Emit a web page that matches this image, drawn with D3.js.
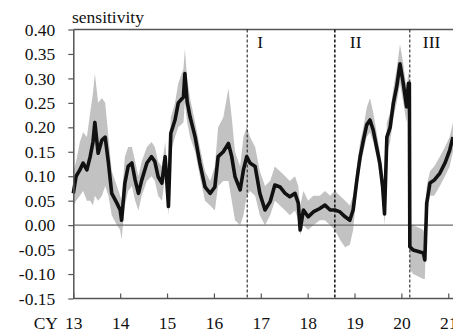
<!DOCTYPE html>
<html>
<head>
<meta charset="utf-8">
<script src="https://cdn.jsdelivr.net/npm/d3@7"></script>
<style>
  body { margin: 0; background: #fff; }
</style>
</head>
<body>
<div id="chart"></div>
<script>
// data
const years = [13.00,13.06,13.14,13.21,13.29,13.36,13.42,13.46,13.53,13.61,13.68,13.75,13.82,13.93,14.00,14.03,
  14.10,14.17,14.25,14.32,14.39,14.46,14.57,14.67,14.74,14.81,14.89,14.96,15.03,15.08,15.17,15.24,15.35,15.38,
  15.43,15.49,15.60,15.70,15.81,15.92,16.02,16.09,16.20,16.31,16.38,16.45,16.56,16.63,16.70,16.77,16.88,16.98,
  17.09,17.20,17.30,17.41,17.52,17.62,17.73,17.80,17.84,17.91,18.01,18.12,18.26,18.37,18.48,18.58,18.69,18.80,
  18.90,18.97,19.05,19.12,19.19,19.26,19.33,19.40,19.47,19.54,19.60,19.64,19.69,19.76,19.83,19.90,19.97,20.04,
  20.11,20.15,20.17,20.18,20.25,20.36,20.47,20.50,20.54,20.61,20.70,20.82,20.93,21.03,21.10];
const sens = [0.065,0.100,0.113,0.127,0.113,0.140,0.170,0.210,0.147,0.174,0.180,0.127,0.065,0.045,0.031,0.010,
  0.086,0.120,0.127,0.092,0.065,0.092,0.127,0.140,0.130,0.099,0.086,0.140,0.038,0.188,0.215,0.250,0.262,0.310,
  0.252,0.222,0.180,0.127,0.078,0.065,0.078,0.140,0.150,0.167,0.140,0.099,0.072,0.113,0.140,0.127,0.120,0.065,
  0.031,0.048,0.082,0.078,0.065,0.058,0.065,0.045,-0.010,0.031,0.017,0.027,0.034,0.041,0.031,0.031,0.027,0.017,
  0.010,0.031,0.092,0.140,0.174,0.205,0.215,0.194,0.160,0.127,0.078,0.023,0.180,0.200,0.250,0.283,0.330,0.290,
  0.242,0.290,0.290,-0.044,-0.051,-0.054,-0.057,-0.071,0.045,0.086,0.092,0.106,0.127,0.153,0.180];
const bandLo = [0.040,0.050,0.060,0.070,0.050,0.050,0.040,0.060,0.050,0.060,0.080,0.060,0.020,0.000,-0.010,-0.030,
  0.040,0.070,0.080,0.050,0.030,0.060,0.090,0.100,0.090,0.060,0.050,0.100,0.020,0.150,0.180,0.200,0.210,0.250,
  0.210,0.180,0.150,0.100,0.050,0.040,0.030,0.080,0.090,0.090,0.050,0.010,0.000,0.020,0.060,0.070,0.060,0.020,
  0.000,0.020,0.050,0.040,0.030,0.020,0.030,0.010,-0.020,0.000,-0.010,0.000,0.010,0.010,0.000,-0.010,-0.030,-0.045,
  -0.040,-0.010,0.070,0.120,0.150,0.180,0.190,0.170,0.140,0.100,0.050,0.000,0.150,0.170,0.220,0.250,0.290,0.250,
  0.210,0.250,0.250,-0.090,-0.100,-0.105,-0.110,-0.110,0.020,0.060,0.060,0.080,0.100,0.120,0.150];
const bandHi = [0.110,0.130,0.170,0.190,0.180,0.230,0.270,0.310,0.250,0.260,0.250,0.180,0.110,0.080,0.060,0.050,
  0.140,0.160,0.160,0.130,0.100,0.130,0.160,0.170,0.160,0.130,0.120,0.170,0.090,0.220,0.250,0.290,0.320,0.360,
  0.300,0.260,0.210,0.160,0.110,0.090,0.120,0.200,0.220,0.280,0.220,0.150,0.120,0.180,0.200,0.180,0.160,0.110,
  0.080,0.090,0.120,0.110,0.100,0.090,0.100,0.080,0.040,0.070,0.050,0.060,0.060,0.070,0.060,0.070,0.060,0.050,
  0.040,0.060,0.120,0.170,0.200,0.240,0.260,0.230,0.190,0.150,0.100,0.050,0.210,0.230,0.280,0.320,0.370,0.330,
  0.280,0.310,0.310,0.000,0.000,-0.005,-0.010,-0.020,0.080,0.110,0.120,0.140,0.160,0.180,0.210];

const yTicks = [-0.15,-0.10,-0.05,0.00,0.05,0.10,0.15,0.20,0.25,0.30,0.35,0.40];
const xTicks = [13,14,15,16,17,18,19,20,21];
const breakYears = [16.71, 18.58, 20.18];
const regimeLabels = ['I', 'II', 'III'];

const width = 453, height = 333;
const margin = { top: 29.5, left: 73.3, bottom: 34.5 };
const serif = '"Liberation Serif", "Times New Roman", serif';
const fs = 17.5;

const svg = d3.select('#chart').append('svg')
  .attr('width', width).attr('height', height)
  .attr('font-family', serif);

const xScale = d3.scaleLinear().domain([13, 21.2]).range([margin.left, margin.left + 8.2 * 46.87]);
const yScale = d3.scaleLinear().domain([-0.15, 0.40]).range([height - margin.bottom, margin.top]);

const rows = years.map((yr, i) => ({ yr: yr, v: sens[i], lo: bandLo[i], hi: bandHi[i] }));

// confidence band
svg.append('path')
  .datum(rows)
  .attr('fill', '#c2c2c2')
  .attr('d', d3.area().x(d => xScale(d.yr)).y0(d => yScale(d.lo)).y1(d => yScale(d.hi)));

// zero line
svg.append('line')
  .attr('x1', margin.left).attr('x2', width)
  .attr('y1', yScale(0)).attr('y2', yScale(0))
  .attr('stroke', '#6a6a6a').attr('stroke-width', 1.2);

// top frame
svg.append('line')
  .attr('x1', margin.left).attr('x2', width)
  .attr('y1', yScale(0.40)).attr('y2', yScale(0.40))
  .attr('stroke', '#555').attr('stroke-width', 1.5);

// regime breaks
svg.selectAll('.brk').data(breakYears).enter().append('line')
  .attr('class', 'brk')
  .attr('x1', d => xScale(d)).attr('x2', d => xScale(d))
  .attr('y1', yScale(0.40)).attr('y2', yScale(-0.15))
  .attr('stroke', '#111')
  .attr('stroke-width', (d, i) => i === 1 ? 1.5 : 1)
  .attr('stroke-dasharray', '3,2');

svg.selectAll('.reg').data(regimeLabels).enter().append('text')
  .attr('class', 'reg')
  .attr('x', (d, i) => xScale(breakYears[i]) + [10, 15, 13][i])
  .attr('y', 48)
  .attr('font-size', fs)
  .attr('fill', '#111')
  .text(d => d);

// sensitivity line
svg.append('path')
  .datum(rows)
  .attr('fill', 'none')
  .attr('stroke', '#111')
  .attr('stroke-width', 3.6)
  .attr('stroke-linejoin', 'round')
  .attr('d', d3.line().x(d => xScale(d.yr)).y(d => yScale(d.v)));

// axes
const yAxis = d3.axisLeft(yScale)
  .tickValues(yTicks)
  .tickSizeInner(5).tickSizeOuter(0).tickPadding(13)
  .tickFormat(d => (Math.round(d * 100) / 100).toFixed(2).replace('-0.00', '0.00'));
const gy = svg.append('g').attr('transform', `translate(${margin.left},0)`).call(yAxis);

const xAxis = d3.axisBottom(xScale)
  .tickValues(xTicks)
  .tickSizeInner(-5).tickSizeOuter(0).tickPadding(18)
  .tickFormat(d => d);
const gx = svg.append('g').attr('transform', `translate(0,${yScale(-0.15)})`).call(xAxis);

[gx, gy].forEach(g => {
  g.attr('font-family', serif).attr('font-size', fs);
  g.select('.domain').attr('stroke', '#555').attr('stroke-width', 1.5);
  g.selectAll('.tick line').attr('stroke', '#555').attr('stroke-width', 1.2);
  g.selectAll('.tick text').attr('fill', '#111');
});
gx.select('.domain').attr('d', `M${margin.left},0H${width}`);

svg.append('text')
  .attr('x', 58).attr('y', yScale(-0.15) + 30.5)
  .attr('text-anchor', 'end')
  .attr('font-size', fs).attr('fill', '#111')
  .text('CY');

svg.append('text')
  .attr('x', 72).attr('y', 23)
  .attr('font-size', fs).attr('fill', '#111')
  .text('sensitivity');
</script>
</body>
</html>
